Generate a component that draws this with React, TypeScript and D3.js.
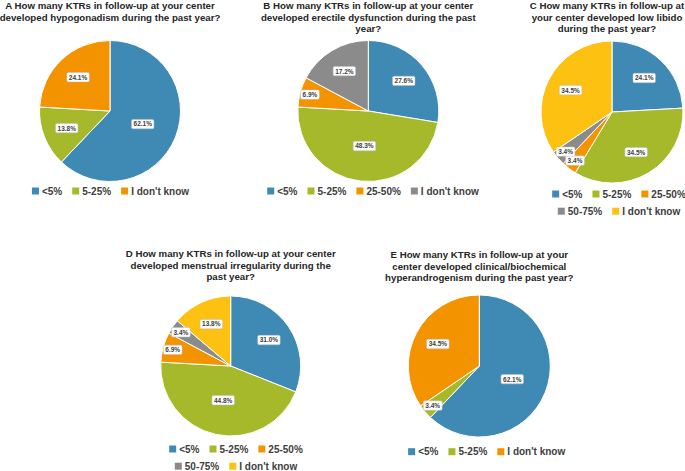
import * as d3 from "d3"

// chart values
const catsA = ["<5%", "5-25%", "I don't know"]
const valsA = [62.1, 13.8, 24.1]

const catsB = ["<5%", "5-25%", "25-50%", "I don't know"]
const valsB = [27.6, 48.3, 6.9, 17.2]

const catsC = ["<5%", "5-25%", "25-50%", "50-75%", "I don't know"]
const valsC = [24.1, 34.5, 3.4, 3.4, 34.5]

const catsD = ["<5%", "5-25%", "25-50%", "50-75%", "I don't know"]
const valsD = [31.0, 44.8, 6.9, 3.4, 13.8]

const catsE = ["<5%", "5-25%", "I don't know"]
const valsE = [62.1, 3.4, 34.5]

const titleA = ["A How many KTRs in follow-up at your center", "developed hypogonadism during the past year?"]
const titleB = ["B How many KTRs in follow-up at your center", "developed erectile dysfunction during the past", "year?"]
const titleC = ["C How many KTRs in follow-up at", "your center developed low libido", "during the past year?"]
const titleD = ["D How many KTRs in follow-up at your center", "developed menstrual irregularity during the", "past year?"]
const titleE = ["E How many KTRs in follow-up at your", "center developed clinical/biochemical", "hyperandrogenism during the past year?"]

const palette = ["#3f89b5", "#a6b92b", "#f49300", "#8b8b8b", "#fdc112"]
const FONT = "'Liberation Sans', Arial, sans-serif"

let ctx: CanvasRenderingContext2D | null = null
function textWidth(s: string, size: number) {
  if (!ctx) ctx = document.createElement("canvas").getContext("2d")
  if (!ctx) return s.length * size * 0.55
  ctx.font = `bold ${size}px ${FONT}`
  return ctx.measureText(s).width
}

interface PieProps {
  cats: string[]
  vals: number[]
  title: string[]
  cx: number
  cy: number
  r: number
  titleCx?: number
  titleY: number
  legendCx: number
  legendY: number
  legendW: number
}

function Pie({ cats, vals, title, cx, cy, r, titleCx, titleY, legendCx, legendY, legendW }: PieProps) {
  const color = d3.scaleOrdinal<number, string>().domain(d3.range(cats.length)).range(palette)
  const total = d3.sum(vals)
  const arcs = d3
    .pie<number>()
    .sort(null)
    .value((d) => d)(vals)
  const arc = d3.arc<d3.PieArcDatum<number>>().innerRadius(0).outerRadius(r)

  // legend rows
  const sq = 7
  const legendFont = 10
  const items = cats.map((c, i) => ({ c, i, w: sq + 3 + textWidth(c, legendFont) }))
  const rows: { c: string; i: number; w: number }[][] = [[]]
  let rowW = 0
  items.forEach((it) => {
    const add = rows[rows.length - 1].length ? 10 + it.w : it.w
    if (rowW + add > legendW && rows[rows.length - 1].length) {
      rows.push([it])
      rowW = it.w
    } else {
      rows[rows.length - 1].push(it)
      rowW += add
    }
  })

  return (
    <g>
      <text
        x={titleCx ?? cx}
        y={titleY}
        textAnchor="middle"
        fontFamily={FONT}
        fontWeight="bold"
        fontSize={9.7}
        fill="#262626"
      >
        {title.map((t, i) => (
          <tspan key={i} x={titleCx ?? cx} dy={i === 0 ? 0 : 11.7}>
            {t}
          </tspan>
        ))}
      </text>
      <g transform={`translate(${cx},${cy})`}>
        {arcs.map((a, i) => (
          <path key={i} d={arc(a) || ""} fill={color(i)} stroke="#fff" strokeWidth={1} />
        ))}
        {arcs.map((a, i) => {
          const p = a.value / total
          const f = p < 0.1 ? 0.86 : p > 0.4 ? 0.5 : 0.66
          const mid = (a.startAngle + a.endAngle) / 2
          const x = Math.sin(mid) * r * f
          const y = -Math.cos(mid) * r * f
          const label = `${a.value.toFixed(1)}%`
          const w = textWidth(label, 6.5) + 4
          return (
            <g key={"l" + i} transform={`translate(${x},${y})`}>
              <rect x={-w / 2} y={-4.7} width={w} height={9.4} rx={1.5} fill="#fff" stroke="#bfbfbf" strokeWidth={0.5} />
              <text y={2.4} textAnchor="middle" fontFamily={FONT} fontWeight="bold" fontSize={6.5} fill="#404040">
                {label}
              </text>
            </g>
          )
        })}
      </g>
      {rows.map((row, ri) => {
        const total = d3.sum(row, (d) => d.w) + 10 * (row.length - 1)
        let x = legendCx - total / 2
        const y = legendY + ri * 17.2
        return (
          <g key={"r" + ri}>
            {row.map((it) => {
              const x0 = x
              x += it.w + 10
              return (
                <g key={it.c}>
                  <rect x={x0} y={y - sq / 2} width={sq} height={sq} fill={color(it.i)} />
                  <text x={x0 + sq + 3} y={y + 3.5} fontFamily={FONT} fontWeight="bold" fontSize={legendFont} fill="#404040">
                    {it.c}
                  </text>
                </g>
              )
            })}
          </g>
        )
      })}
    </g>
  )
}

export default function App() {
  return (
    <svg width={685} height={471} style={{ position: "absolute", left: 0, top: 0, background: "#fff" }}>
      <rect width={685} height={471} fill="#fff" />
      <Pie cats={catsA} vals={valsA} title={titleA} cx={110} cy={111} r={70.5} titleY={9} legendCx={110.5} legendY={191} legendW={220} />
      <Pie cats={catsB} vals={valsB} title={titleB} cx={368.3} cy={111} r={70.5} titleY={9} legendCx={373} legendY={191} legendW={240} />
      <Pie cats={catsC} vals={valsC} title={titleC} cx={612} cy={112} r={71} titleCx={607} titleY={9} legendCx={619} legendY={194} legendW={140} />
      <Pie cats={catsD} vals={valsD} title={titleD} cx={230.7} cy={366} r={70} titleY={257} legendCx={236} legendY={449} legendW={150} />
      <Pie cats={catsE} vals={valsE} title={titleE} cx={479.3} cy={366} r={71} titleY={258} legendCx={486.7} legendY={451.7} legendW={220} />
    </svg>
  )
}
